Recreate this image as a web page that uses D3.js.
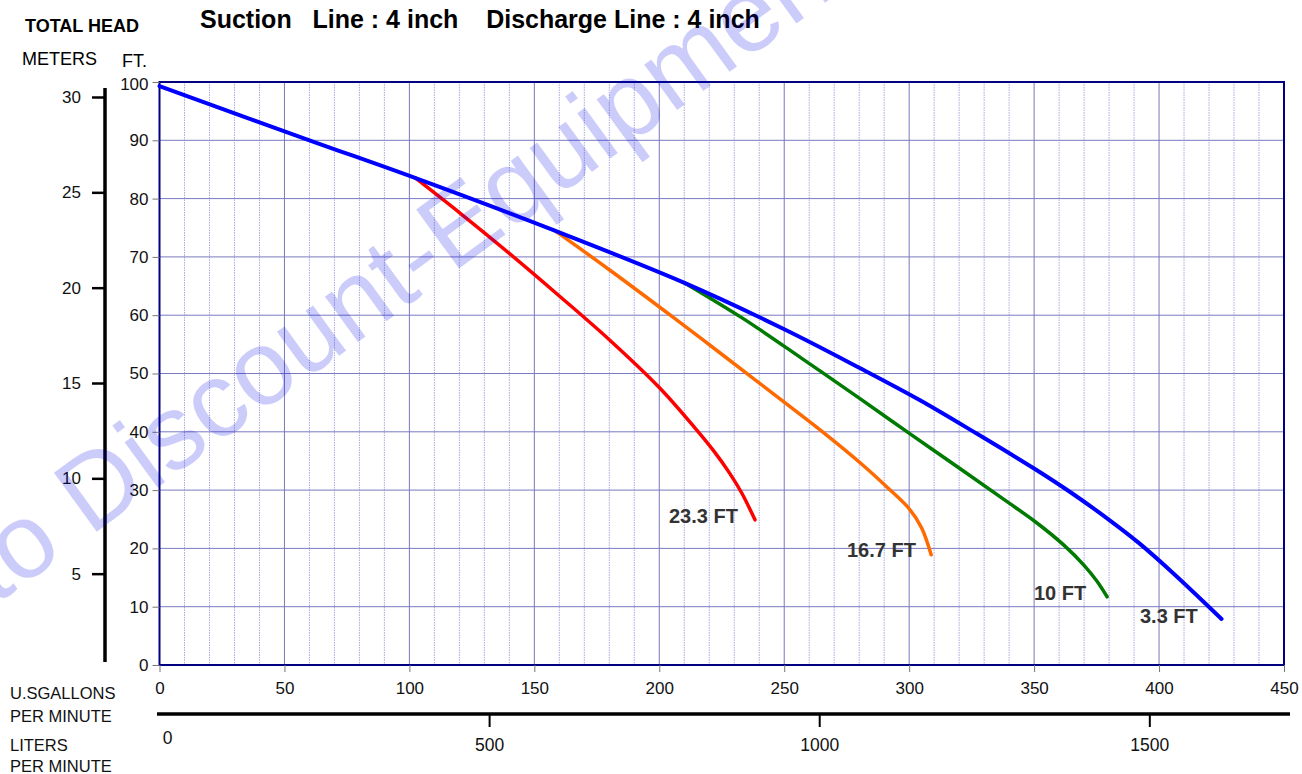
<!DOCTYPE html>
<html>
<head>
<meta charset="utf-8">
<script src="https://cdn.jsdelivr.net/npm/d3@7"></script>
<style>
  body { margin: 0; background: #fff; }
  svg { display: block; font-family: "Liberation Sans", Arial, sans-serif; }
</style>
</head>
<body>
<div id="chart"></div>
<script>
// Axis ticks
const gpmTicks = [0, 50, 100, 150, 200, 250, 300, 350, 400, 450];
const ftTicks = [0, 10, 20, 30, 40, 50, 60, 70, 80, 90, 100];
const meterTicks = [5, 10, 15, 20, 25, 30];
const literTicks = [0, 500, 1000, 1500];

// Pump curves: [gpm, total head ft] for each suction lift
const lift33 = [[0, 99.3], [60, 90.0], [102.5, 83.5], [158.2, 74.5], [210.3, 65.5], [250, 57.6],
  [280, 51.0], [304, 45.5], [327, 39.7], [350, 33.7], [365, 29.5], [380, 24.9],
  [392, 20.9], [405, 16.0], [425, 7.9]];
const lift10 = [[210.3, 65.5], [233.3, 59.5], [257, 52.6], [280.6, 45.6], [300.5, 39.6], [322, 33.2],
  [338.6, 28.2], [351, 24.4], [361.8, 20.6], [370, 17.1], [375.1, 14.4], [379.2, 11.7]];
const lift167 = [[158.2, 74.5], [180, 67.8], [206, 59.5], [225, 53.3], [246.6, 46.2], [265.6, 39.9],
  [280.6, 34.6], [291.4, 30.4], [300, 26.8], [305, 23.5], [308.8, 18.9]];
const lift233 = [[102.5, 83.5], [120, 77.6], [140, 70.6], [160, 63.3], [180, 55.8], [200, 47.6],
  [214, 40.8], [222, 36.6], [228, 33.0], [233, 29.5], [238.3, 24.9]];

const series = [
  { name: "3.3 FT", data: lift33, color: "#0000ff", width: 4, label: [1140, 623] },
  { name: "10 FT", data: lift10, color: "#007a00", width: 3.5, label: [1034, 600] },
  { name: "16.7 FT", data: lift167, color: "#ff6a00", width: 3.5, label: [847, 557] },
  { name: "23.3 FT", data: lift233, color: "#ff0000", width: 3.5, label: [669, 523] }
];

const width = 1302, height = 774;
const svg = d3.select("#chart").append("svg")
  .attr("width", width).attr("height", height);

const x = d3.scaleLinear().domain([0, 450]).range([159.5, 1284]);
const y = d3.scaleLinear().domain([0, 100]).range([665, 82]);
const yMeters = d3.scaleLinear().domain([0, 30]).range([669, 97]);
const xLiters = d3.scaleLinear().domain([0, 450 * 3.785]).range([159.5, 1284]);

// vertical grid every 10 gpm
const grid = svg.append("g");
grid.selectAll("line.v")
  .data(d3.range(10, 450, 10))
  .join("line")
  .attr("x1", d => x(d)).attr("x2", d => x(d))
  .attr("y1", y(100)).attr("y2", y(0))
  .attr("stroke", d => d % 50 === 0 ? "#7878bc" : "#a0a0dc")
  .attr("stroke-width", d => d % 50 === 0 ? 1 : 0.9)
  .attr("stroke-dasharray", d => d % 50 === 0 ? null : "1.5,1");

// horizontal grid every 10 ft
grid.selectAll("line.h")
  .data(ftTicks.slice(1, -1))
  .join("line")
  .attr("x1", x(0)).attr("x2", x(450))
  .attr("y1", d => y(d)).attr("y2", d => y(d))
  .attr("stroke", "#7a7ac0").attr("stroke-width", 1);

// frame
svg.append("rect")
  .attr("x", x(0)).attr("y", y(100))
  .attr("width", x(450) - x(0)).attr("height", y(0) - y(100))
  .attr("fill", "none").attr("stroke", "#000080").attr("stroke-width", 2);

// ft axis
const ftAxis = svg.append("g")
  .attr("transform", `translate(${x(0)},0)`)
  .call(d3.axisLeft(y).tickValues(ftTicks).tickSize(7).tickPadding(4));
ftAxis.select(".domain").remove();
ftAxis.selectAll(".tick line").attr("stroke", "#777");
ftAxis.selectAll(".tick text").attr("font-size", 17).attr("fill", "#111")
  .attr("font-family", "Liberation Sans, Arial, sans-serif")
  .attr("dy", d => d === 100 ? "0.42em" : "0.32em");

// gpm axis
const gpmAxis = svg.append("g")
  .attr("transform", `translate(0,${y(0)})`)
  .call(d3.axisBottom(x).tickValues(gpmTicks).tickSize(7).tickPadding(10));
gpmAxis.select(".domain").remove();
gpmAxis.selectAll(".tick line").attr("stroke", "#777");
gpmAxis.selectAll(".tick text").attr("font-size", 17).attr("fill", "#111")
  .attr("font-family", "Liberation Sans, Arial, sans-serif");

// meters axis
svg.append("line")
  .attr("x1", 105).attr("x2", 105)
  .attr("y1", 88).attr("y2", 662)
  .attr("stroke", "#000").attr("stroke-width", 3.5);
const mAxis = svg.append("g")
  .attr("transform", "translate(105,0)")
  .call(d3.axisLeft(yMeters).tickValues(meterTicks).tickSize(13).tickPadding(11));
mAxis.select(".domain").remove();
mAxis.selectAll(".tick line").attr("stroke", "#000").attr("stroke-width", 2.5);
mAxis.selectAll(".tick text").attr("font-size", 17).attr("fill", "#111")
  .attr("font-family", "Liberation Sans, Arial, sans-serif");

// liters axis
svg.append("line")
  .attr("x1", 157).attr("x2", 1290)
  .attr("y1", 714).attr("y2", 714)
  .attr("stroke", "#000").attr("stroke-width", 3.5);
const lAxis = svg.append("g");
lAxis.selectAll("line")
  .data(literTicks.filter(d => d > 0))
  .join("line")
  .attr("x1", d => xLiters(d)).attr("x2", d => xLiters(d))
  .attr("y1", 714).attr("y2", 727)
  .attr("stroke", "#000").attr("stroke-width", 2);
lAxis.selectAll("text")
  .data(literTicks)
  .join("text")
  .attr("x", d => d === 0 ? xLiters(d) + 8 : xLiters(d))
  .attr("y", d => d === 0 ? 744 : 751)
  .attr("text-anchor", "middle")
  .attr("font-size", 17.5).attr("fill", "#111")
  .text(d => d);

// curves
const line = d3.line()
  .x(d => x(d[0])).y(d => y(d[1]))
  .curve(d3.curveCatmullRom.alpha(0.5));

svg.append("g").selectAll("path")
  .data(series.slice().reverse())
  .join("path")
  .attr("d", d => line(d.data))
  .attr("fill", "none")
  .attr("stroke", d => d.color)
  .attr("stroke-width", d => d.width)
  .attr("stroke-linecap", "round");

svg.append("g").selectAll("text")
  .data(series)
  .join("text")
  .attr("x", d => d.label[0]).attr("y", d => d.label[1])
  .attr("font-size", 20).attr("font-weight", "bold").attr("fill", "#333")
  .text(d => d.name);

// titles and axis names
svg.append("text").attr("x", 200).attr("y", 28)
  .attr("font-size", 25).attr("font-weight", "bold")
  .style("white-space", "pre")
  .text("Suction   Line : 4 inch    Discharge Line : 4 inch");
svg.append("text").attr("x", 25).attr("y", 32)
  .attr("font-size", 18).attr("font-weight", "bold")
  .text("TOTAL HEAD");
svg.append("text").attr("x", 22).attr("y", 65)
  .attr("font-size", 18).text("METERS");
svg.append("text").attr("x", 122).attr("y", 67)
  .attr("font-size", 18).text("FT.");

const sideLabels = [["U.SGALLONS", 699], ["PER MINUTE", 722], ["LITERS", 751], ["PER MINUTE", 772]];
svg.append("g").selectAll("text")
  .data(sideLabels)
  .join("text")
  .attr("x", 10).attr("y", d => d[1])
  .attr("font-size", 16.5).attr("fill", "#111")
  .text(d => d[0]);

// watermark
const wm = svg.append("g")
  .attr("transform", "translate(66,554) rotate(-36)");
const wmText = wm.append("text")
  .attr("font-size", 106)
  .attr("fill", "#0000e6").attr("fill-opacity", 0.2)
  .text("Link to Discount-Equipment.com");
const probe = wm.append("text").attr("font-size", 106).text("Link to ");
const off = probe.node().getComputedTextLength();
probe.remove();
wmText.attr("x", -off);
</script>
</body>
</html>
